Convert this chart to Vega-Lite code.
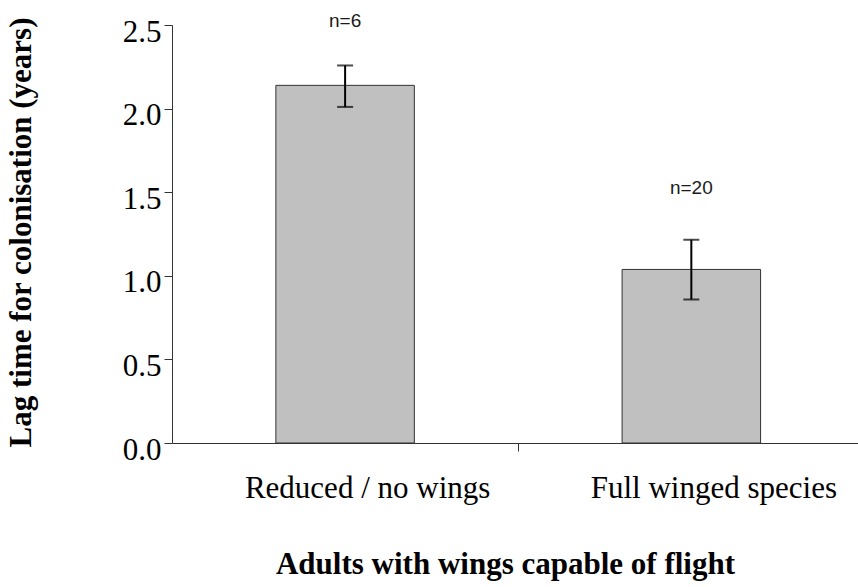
{
  "$schema": "https://vega.github.io/schema/vega-lite/v6.json",
  "width": 686,
  "height": 418,
  "autosize": {"type": "none"},
  "padding": {"left": 172, "top": 25, "right": 0, "bottom": 144},
  "background": "white",
  "config": {
    "view": {"stroke": null},
    "font": "Liberation Serif"
  },
  "data": {
    "values": [
      {"group": "Reduced / no wings", "mean": 2.139, "lo": 2.010, "hi": 2.258, "n": "n=6", "ny": 2.526},
      {"group": "Full winged species", "mean": 1.038, "lo": 0.859, "hi": 1.216, "n": "n=20", "ny": 1.527}
    ]
  },
  "encoding": {
    "x": {
      "field": "group",
      "type": "nominal",
      "sort": null,
      "scale": {"paddingInner": 0.6, "paddingOuter": 0.2907, "align": 0.516},
      "axis": {
        "title": "Adults with wings capable of flight",
        "titleFont": "Liberation Serif",
        "titleFontSize": 31,
        "titleFontWeight": "bold",
        "titleColor": "black",
        "titleX": 333,
        "titleY": 130,
        "titleAlign": "center",
        "titleBaseline": "alphabetic",
        "labelAngle": 0,
        "labelFont": "Liberation Serif",
        "labelFontSize": 31,
        "labelColor": "black",
        "labelBaseline": "alphabetic",
        "labelPadding": 46,
        "labelOffset": -151,
        "labelLimit": 0,
        "labelOverlap": false,
        "tickOffset": 173,
        "tickSize": 8,
        "tickWidth": 1,
        "tickColor": "#333",
        "domainColor": "#333",
        "grid": false
      }
    }
  },
  "layer": [
    {
      "mark": {"type": "bar", "fill": "#c0c0c0", "stroke": "#333", "strokeWidth": 1},
      "encoding": {
        "y": {
          "field": "mean",
          "type": "quantitative",
          "scale": {"domain": [0, 2.5], "nice": false, "zero": true},
          "axis": {
            "title": "Lag time for colonisation (years)",
            "titleFont": "Liberation Serif",
            "titleFontSize": 31,
            "titleFontWeight": "bold",
            "titleColor": "black",
            "titleAngle": -90,
            "titleX": -142,
            "titleY": 207,
            "titleAlign": "center",
            "titleBaseline": "alphabetic",
            "values": [0, 0.5, 1, 1.5, 2, 2.5],
            "format": ".1f",
            "labelFont": "Liberation Serif",
            "labelFontSize": 31,
            "labelColor": "black",
            "labelBaseline": "alphabetic",
            "labelOffset": 16,
            "labelPadding": 3,
            "labelFlush": false,
            "labelOverlap": false,
            "tickSize": 8,
            "tickColor": "#333",
            "domainColor": "#333",
            "grid": false
          }
        }
      }
    },
    {
      "mark": {"type": "rule", "color": "black", "strokeWidth": 2},
      "encoding": {
        "y": {"field": "lo", "type": "quantitative"},
        "y2": {"field": "hi"}
      }
    },
    {
      "mark": {"type": "tick", "color": "black", "thickness": 2, "size": 16, "orient": "horizontal"},
      "encoding": {"y": {"field": "lo", "type": "quantitative"}}
    },
    {
      "mark": {"type": "tick", "color": "black", "thickness": 2, "size": 16, "orient": "horizontal"},
      "encoding": {"y": {"field": "hi", "type": "quantitative"}}
    },
    {
      "mark": {"type": "text", "font": "Liberation Sans", "fontSize": 19, "color": "#1a1a1a", "baseline": "middle", "align": "center"},
      "encoding": {
        "y": {"field": "ny", "type": "quantitative"},
        "text": {"field": "n"}
      }
    }
  ]
}
